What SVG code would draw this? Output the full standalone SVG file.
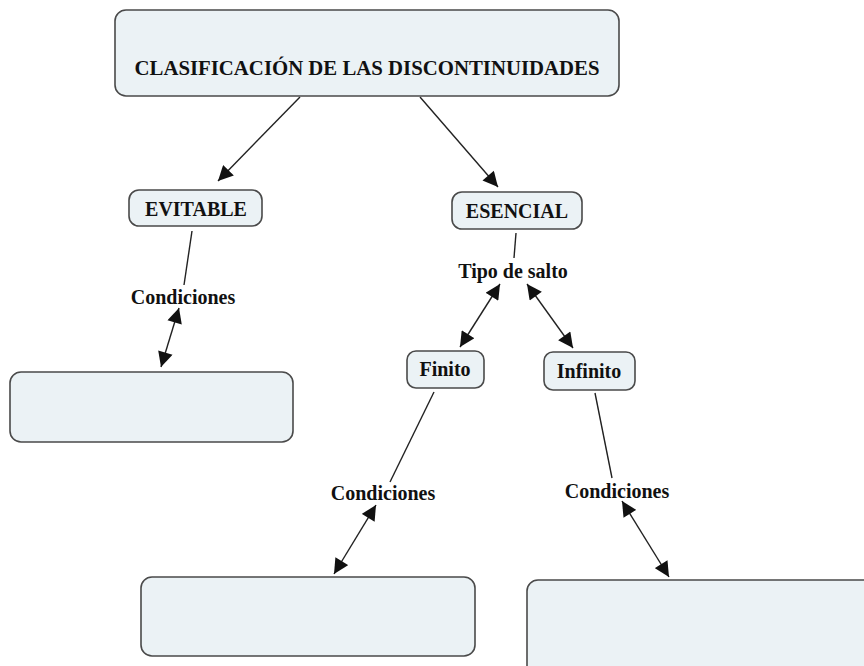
<svg xmlns="http://www.w3.org/2000/svg" width="864" height="666" viewBox="0 0 864 666">
<style>
.box{fill:#ebf2f5;stroke:#4a4a4a;stroke-width:1.6}
.t{font-family:"Liberation Serif","Times New Roman",serif;font-weight:bold;font-size:20px;fill:#111;text-anchor:middle}
.ln{stroke:#222;stroke-width:1.4;fill:none}
</style>
<defs>
<marker id="ah" viewBox="0 0 10 10" refX="10" refY="5" markerWidth="16" markerHeight="15" markerUnits="userSpaceOnUse" orient="auto-start-reverse">
<path d="M0,0 L10,5 L0,10 z" fill="#111"/>
</marker>
</defs>
<rect width="864" height="666" fill="#fff"/>
<g id="connectors">
<line class="ln" x1="300" y1="97" x2="218" y2="181" marker-end="url(#ah)"/>
<line class="ln" x1="420" y1="97" x2="498" y2="187" marker-end="url(#ah)"/>
<line class="ln" x1="192" y1="231" x2="184" y2="285"/>
<line class="ln" x1="179" y1="308" x2="161" y2="367" marker-start="url(#ah)" marker-end="url(#ah)"/>
<line class="ln" x1="516" y1="233" x2="514" y2="258"/>
<line class="ln" x1="500" y1="284" x2="460" y2="347" marker-start="url(#ah)" marker-end="url(#ah)"/>
<line class="ln" x1="527" y1="284" x2="573" y2="348" marker-start="url(#ah)" marker-end="url(#ah)"/>
<line class="ln" x1="434" y1="392" x2="390" y2="482"/>
<line class="ln" x1="376" y1="505" x2="334" y2="574" marker-start="url(#ah)" marker-end="url(#ah)"/>
<line class="ln" x1="595" y1="393" x2="612" y2="478"/>
<line class="ln" x1="622" y1="501" x2="669" y2="577" marker-start="url(#ah)" marker-end="url(#ah)"/>
</g>
<g id="title"><rect class="box" x="115" y="10" width="504" height="86" rx="11"/><text class="t" x="367" y="75" textLength="465" lengthAdjust="spacingAndGlyphs">CLASIFICACIÓN DE LAS DISCONTINUIDADES</text></g>
<g id="evitable"><rect class="box" x="129" y="190" width="133" height="36" rx="10"/><text class="t" x="196" y="216">EVITABLE</text></g>
<g id="esencial"><rect class="box" x="452" y="192" width="130" height="37" rx="10"/><text class="t" x="517" y="218">ESENCIAL</text></g>
<g id="cond1"><text class="t" x="183" y="304">Condiciones</text></g>
<g id="box1"><rect class="box" x="10" y="372" width="283" height="70" rx="11"/></g>
<g id="tipo"><text class="t" x="513" y="278">Tipo de salto</text></g>
<g id="finito"><rect class="box" x="407" y="351" width="77" height="37" rx="9"/><text class="t" x="445" y="376">Finito</text></g>
<g id="infinito"><rect class="box" x="544" y="352" width="91" height="38" rx="9"/><text class="t" x="589" y="378">Infinito</text></g>
<g id="cond2"><text class="t" x="383" y="500">Condiciones</text></g>
<g id="cond3"><text class="t" x="617" y="498">Condiciones</text></g>
<g id="box2"><rect class="box" x="141" y="577" width="334" height="79" rx="11"/></g>
<g id="box3"><rect class="box" x="527" y="580" width="356" height="100" rx="11"/></g>
</svg>
